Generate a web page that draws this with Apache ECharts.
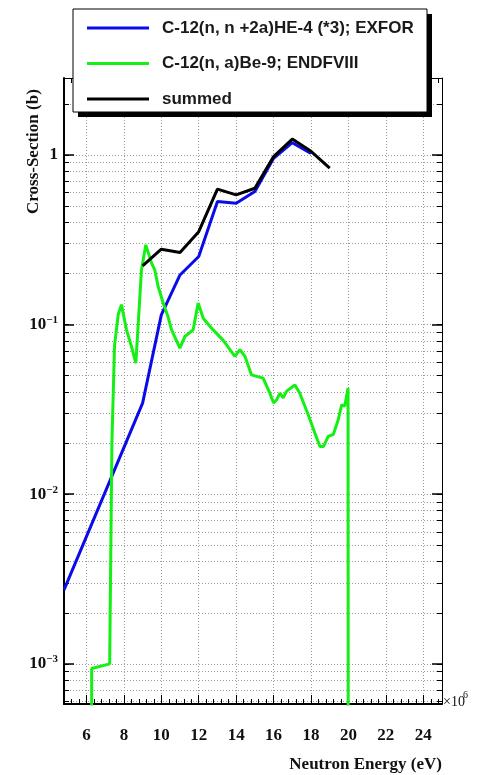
<!DOCTYPE html>
<html><head><meta charset="utf-8">
<script src="https://cdn.jsdelivr.net/npm/echarts@6/dist/echarts.min.js"></script>
<style>html,body{margin:0;padding:0;background:#fff}#c{width:477px;height:775px}</style>
</head><body><div id="c"></div><script>
// ---- data ----
const blueName = 'C-12(n, n +2a)HE-4 (*3); EXFOR';
const greenName = 'C-12(n, a)Be-9; ENDFVIII';
const sumName = 'summed';
const blueX = [4.8, 9, 10, 11, 12, 13, 14, 15, 16, 17, 18];
const blueY = [0.00273, 0.0344, 0.114, 0.196, 0.252, 0.531, 0.519, 0.608, 0.956, 1.18, 1.02];
const sumX = [9, 10, 11, 12, 13, 14, 15, 16, 17, 18, 19];
const sumY = [0.222, 0.278, 0.266, 0.353, 0.628, 0.581, 0.636, 0.977, 1.24, 1.05, 0.835];
const greenX = [6.26, 6.28, 7.24, 7.36, 7.5, 7.7, 7.87, 8.14, 8.41, 8.64, 8.94, 9.17, 9.48, 9.65, 9.83, 10.1, 10.36, 10.55, 10.99, 11.26, 11.7, 11.97, 12.24, 12.77, 13.3, 13.93, 14.2, 14.47, 14.82, 15.44, 15.8, 16.0, 16.16, 16.34, 16.51, 16.7, 17.14, 17.4, 17.85, 18.2, 18.48, 18.66, 18.92, 19.19, 19.45, 19.64, 19.8, 19.98, 20.0];
const greenY = [1e-6, 0.00094, 0.001, 0.02, 0.075, 0.115, 0.131, 0.093, 0.074, 0.0593, 0.21, 0.295, 0.23, 0.21, 0.168, 0.134, 0.111, 0.093, 0.0726, 0.085, 0.093, 0.134, 0.109, 0.093, 0.081, 0.065, 0.071, 0.065, 0.0505, 0.0483, 0.0394, 0.0345, 0.036, 0.0394, 0.037, 0.0405, 0.044, 0.0394, 0.0294, 0.023, 0.0191, 0.0191, 0.0219, 0.0225, 0.0274, 0.0336, 0.033, 0.0422, 1e-6];
const xTickLabels = [6, 8, 10, 12, 14, 16, 18, 20, 22, 24];
const yTickLabels = [0.001, 0.01, 0.1, 1];
const xMin = 4.8, xMax = 25, yMin = 0.00058, yMax = 2.84;

// minor tick positions
const xMinorTicks = [];
for (let i = 13; i <= 62; i++) xMinorTicks.push(+(i * 0.4).toFixed(1));
const yMinorTicks = [];
[0.0001, 0.001, 0.01, 0.1, 1].forEach(d => { for (let m = 1; m <= 9; m++) { const v = +(m * d).toPrecision(3); if (v >= yMin && v <= yMax) yMinorTicks.push(v); } });

const zip = (a, b) => a.map((v, i) => [v, b[i]]);
const serif = 'Liberation Serif';
const sans = 'Liberation Sans';

function yLabel(v) {
  const e = Math.round(Math.log10(v));
  if (e === 0) return '{b|1}';
  return '{b|10}{e|\u2212' + Math.abs(e) + '}';
}

const gridLine = { show: true, lineStyle: { color: '#9a9a9a', width: 1, type: [1, 2] } };
const blackLine = (w) => ({ show: true, lineStyle: { color: '#000', width: w } });

const chart = echarts.init(document.getElementById('c'), null, { renderer: 'canvas' });
chart.setOption({
  animation: false,
  backgroundColor: '#fff',
  grid: { left: 64, right: 35, top: 78, bottom: 71, containLabel: false },
  legend: {
    orient: 'vertical', left: 87, top: 18, z: 10,
    padding: 0, itemGap: 15.5, itemWidth: 62, itemHeight: 3,
    icon: 'rect',
    textStyle: { fontFamily: sans, fontWeight: 'bold', fontSize: 17, color: '#1a1a1a', lineHeight: 20, padding: [0, 0, 0, 8] },
    data: [blueName, greenName, sumName]
  },
  xAxis: [
    { type: 'value', gridIndex: 0, position: 'bottom', min: xMin, max: xMax,
      axisLine: blackLine(2),
      axisTick: { show: true, inside: true, length: 9, customValues: xTickLabels, lineStyle: { color: '#000', width: 1 } },
      axisLabel: { show: true, customValues: xTickLabels, margin: 23, fontFamily: serif, fontWeight: 'bold', fontSize: 17, color: '#111' },
      splitLine: gridLine },
    { type: 'value', gridIndex: 0, position: 'bottom', min: xMin, max: xMax,
      axisLine: { show: false },
      axisTick: { show: true, inside: true, length: 5, customValues: xMinorTicks, lineStyle: { color: '#000', width: 1 } },
      axisLabel: { show: false }, splitLine: { show: false } },
    { type: 'value', gridIndex: 0, position: 'top', min: xMin, max: xMax,
      axisLine: blackLine(1),
      axisTick: { show: true, inside: true, length: 9, customValues: xTickLabels, lineStyle: { color: '#000', width: 1 } },
      axisLabel: { show: false }, splitLine: { show: false } },
    { type: 'value', gridIndex: 0, position: 'top', min: xMin, max: xMax,
      axisLine: { show: false },
      axisTick: { show: true, inside: true, length: 5, customValues: xMinorTicks, lineStyle: { color: '#000', width: 1 } },
      axisLabel: { show: false }, splitLine: { show: false } }
  ],
  yAxis: [
    { type: 'log', logBase: 10, gridIndex: 0, position: 'left', min: yMin, max: yMax,
      axisLine: blackLine(2),
      axisTick: { show: true, inside: true, length: 10, customValues: yTickLabels, lineStyle: { color: '#000', width: 1.5 } },
      axisLabel: { show: true, customValues: yTickLabels, margin: 6, formatter: yLabel,
        rich: { b: { fontFamily: serif, fontWeight: 'bold', fontSize: 17, color: '#111' },
                e: { fontFamily: serif, fontWeight: 'bold', fontSize: 11, color: '#111', padding: [0, 0, 9, 0] } } },
      splitLine: { show: false } },
    { type: 'log', logBase: 10, gridIndex: 0, position: 'left', min: yMin, max: yMax,
      axisLine: { show: false },
      axisTick: { show: true, inside: true, length: 5, customValues: yMinorTicks, lineStyle: { color: '#000', width: 1 } },
      axisLabel: { show: false }, splitLine: gridLine },
    { type: 'log', logBase: 10, gridIndex: 0, position: 'right', min: yMin, max: yMax,
      axisLine: blackLine(1),
      axisTick: { show: true, inside: true, length: 10, customValues: yTickLabels, lineStyle: { color: '#000', width: 1.5 } },
      axisLabel: { show: false }, splitLine: { show: false } },
    { type: 'log', logBase: 10, gridIndex: 0, position: 'right', min: yMin, max: yMax,
      axisLine: { show: false },
      axisTick: { show: true, inside: true, length: 5, customValues: yMinorTicks, lineStyle: { color: '#000', width: 1 } },
      axisLabel: { show: false }, splitLine: { show: false } }
  ],
  graphic: [
    { type: 'rect', z: 8, shape: { x: 78, y: 14, width: 354, height: 103 }, style: { fill: '#000' } },
    { type: 'rect', z: 9, shape: { x: 73, y: 9, width: 354, height: 103 }, style: { fill: '#fff', stroke: '#000', lineWidth: 1 } },
    { type: 'text', x: 34, y: 214, rotation: Math.PI / 2,
      style: { text: 'Cross-Section (b)', fontFamily: serif, fontWeight: 'bold', fontSize: 17, fill: '#111', textAlign: 'left', textVerticalAlign: 'middle' } },
    { type: 'text', x: 442, y: 765,
      style: { text: 'Neutron Energy (eV)', fontFamily: serif, fontWeight: 'bold', fontSize: 17, fill: '#111', textAlign: 'right', textVerticalAlign: 'middle' } },
    { type: 'text', x: 443, y: 702,
      style: { text: '\u00d710', fontFamily: serif, fontSize: 14, fill: '#111', textAlign: 'left', textVerticalAlign: 'middle' } },
    { type: 'text', x: 463, y: 695,
      style: { text: '6', fontFamily: serif, fontSize: 10, fill: '#111', textAlign: 'left', textVerticalAlign: 'middle' } }
  ],
  series: [
    { name: blueName, type: 'line', xAxisIndex: 0, yAxisIndex: 0, showSymbol: false, symbol: 'none', clip: true,
      color: '#0b0bea', lineStyle: { width: 3, color: '#0b0bea' }, data: zip(blueX, blueY) },
    { name: greenName, type: 'line', xAxisIndex: 0, yAxisIndex: 0, showSymbol: false, symbol: 'none', clip: true,
      color: '#14f014', lineStyle: { width: 3, color: '#14f014' }, data: zip(greenX, greenY) },
    { name: sumName, type: 'line', xAxisIndex: 0, yAxisIndex: 0, showSymbol: false, symbol: 'none', clip: true,
      color: '#000', lineStyle: { width: 3, color: '#000' }, data: zip(sumX, sumY) }
  ]
});
</script></body></html>
